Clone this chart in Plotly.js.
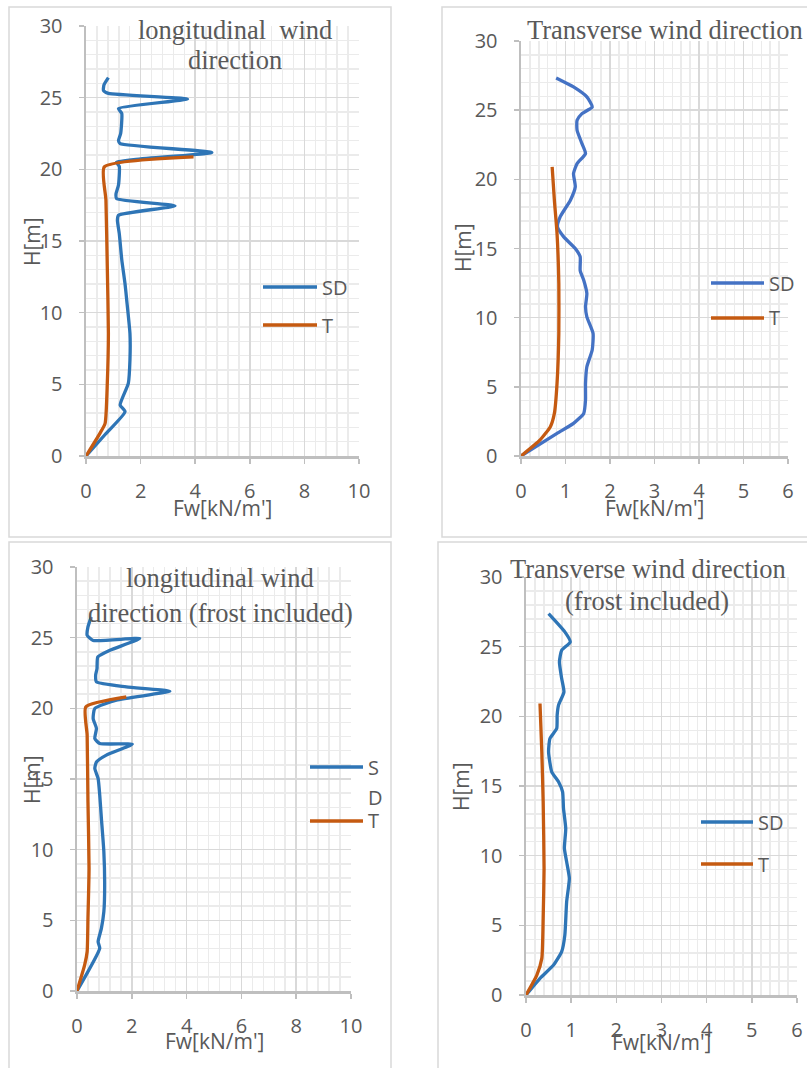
<!DOCTYPE html>
<html>
<head>
<meta charset="utf-8">
<script src="https://cdn.plot.ly/plotly-3.0.1.min.js"></script>
<style>
  html, body { margin: 0; padding: 0; background: #ffffff; }
  #chart { width: 807px; height: 1068px; }
</style>
</head>
<body>
<div id="chart"></div>
<script>
// Wind load Fw along the height H, for SD and T, four load cases.

// Longitudinal wind direction
const longSD_F = [0, 0.7, 1.43, 1.25, 1.55, 1.61, 1.61, 1.49, 1.43, 1.31, 1.22, 1.15, 1.19, 3.26, 1.12, 1.10, 1.19, 1.22, 1.12, 4.61, 1.25, 1.19, 1.27, 1.31, 1.19, 3.72, 0.82, 0.64, 0.66, 0.82];
const longSD_H = [0, 1.5, 3.09, 3.56, 5.07, 6.7, 8.55, 10.9, 12.0, 13.7, 15.5, 16.45, 16.8, 17.45, 17.96, 18.3, 18.9, 20.2, 20.5, 21.17, 21.8, 22.0, 22.5, 23.9, 24.24, 24.9, 25.3, 25.5, 25.9, 26.4];
const longT_F = [0, 0.51, 0.70, 0.78, 0.82, 0.78, 0.73, 0.67, 3.94];
const longT_H = [0, 1.58, 2.28, 5.07, 8.55, 13.2, 17.85, 20.17, 20.87];

// Transverse wind direction
const transSD_F = [0, 0.81, 1.18, 1.41, 1.45, 1.45, 1.48, 1.60, 1.62, 1.48, 1.45, 1.48, 1.41, 1.33, 1.33, 1.22, 0.96, 0.82, 0.88, 1.11, 1.22, 1.18, 1.26, 1.45, 1.37, 1.26, 1.26, 1.37, 1.60, 1.48, 1.18, 0.79];
const transSD_H = [0, 1.64, 2.36, 3.08, 4.05, 5.25, 6.45, 7.66, 8.86, 10.06, 10.79, 11.75, 12.7, 13.4, 14.4, 15.0, 15.84, 16.57, 17.29, 18.49, 19.46, 20.42, 21.14, 21.86, 22.58, 23.55, 24.27, 24.75, 25.23, 25.96, 26.68, 27.33];
const transT_F = [0, 0.43, 0.66, 0.75, 0.81, 0.85, 0.85, 0.81, 0.75, 0.70];
const transT_H = [0, 1.16, 2.12, 3.08, 5.25, 8.86, 12.47, 16.08, 18.49, 20.9];

// Longitudinal wind direction (frost included)
const longFrostSD_F = [0, 0.83, 0.77, 0.89, 0.98, 1.01, 0.98, 0.89, 0.83, 0.77, 0.65, 0.71, 1.07, 2.02, 0.83, 0.65, 0.71, 0.59, 0.65, 1.44, 3.39, 1.80, 0.71, 0.68, 0.73, 0.76, 1.20, 2.29, 0.59, 0.37, 0.40, 0.52];
const longFrostSD_H = [0, 3.02, 3.49, 4.43, 5.61, 7.49, 9.85, 12.21, 13.86, 15.04, 15.74, 16.2, 16.69, 17.46, 17.51, 17.86, 18.57, 19.28, 19.99, 20.58, 21.21, 21.52, 21.87, 22.34, 22.81, 23.64, 24.11, 24.94, 24.8, 25.17, 25.76, 26.47];
const longFrostT_F = [0, 0.28, 0.37, 0.40, 0.44, 0.40, 0.37, 0.32, 1.80];
const longFrostT_H = [0, 1.84, 2.78, 5.14, 8.67, 13.39, 18.1, 20.1, 20.81];

// Transverse wind direction (frost included)
const transFrostSD_F = [0, 0.31, 0.61, 0.79, 0.86, 0.90, 0.96, 0.90, 0.85, 0.88, 0.83, 0.81, 0.72, 0.57, 0.50, 0.53, 0.68, 0.69, 0.72, 0.84, 0.79, 0.74, 0.79, 0.98, 0.86, 0.50];
const transFrostSD_H = [0, 1.2, 2.15, 3.11, 4.3, 6.69, 8.37, 9.56, 10.52, 11.95, 13.39, 14.58, 15.3, 16.02, 17.45, 18.41, 19.12, 20.08, 20.8, 21.75, 22.71, 23.91, 24.74, 25.34, 26.06, 27.37];
const transFrostT_F = [0, 0.24, 0.35, 0.38, 0.40, 0.38, 0.35, 0.31];
const transFrostT_H = [0, 1.43, 2.63, 5.5, 9.08, 13.87, 17.45, 20.92];

const xTickVals10 = [0, 2, 4, 6, 8, 10];
const xTickVals6 = [0, 1, 2, 3, 4, 5, 6];
const yTickVals = [0, 5, 10, 15, 20, 25, 30];
const seriesNames = ['SD', 'T'];
const xTitle = "Fw[kN/m']";
const yTitle = 'H[m]';

// ---- page geometry helpers (pixel -> paper fraction) ----
const W = 807, H = 1068;
const X = px => px / W;
const Y = py => 1 - py / H;

const BLUE = '#2E75B6';
const BLUE2 = '#4472C4';
const ORANGE = '#C55A11';
const TXT = '#595959';
const SANS = 'Open Sans, Noto Sans, sans-serif';
const SERIF = 'Liberation Serif, Times New Roman, serif';

function line(x, y, color, xa, ya, name) {
  return {
    x: x, y: y, type: 'scatter', mode: 'lines', name: name,
    xaxis: xa, yaxis: ya, showlegend: false, hoverinfo: 'skip',
    line: { color: color, width: 3.3, shape: 'spline', smoothing: 0.5 }
  };
}

const traces = [
  line(longSD_F, longSD_H, BLUE, 'x', 'y', seriesNames[0]),
  line(longT_F, longT_H, ORANGE, 'x', 'y', seriesNames[1]),
  line(transSD_F, transSD_H, BLUE2, 'x2', 'y2', seriesNames[0]),
  line(transT_F, transT_H, ORANGE, 'x2', 'y2', seriesNames[1]),
  line(longFrostSD_F, longFrostSD_H, BLUE, 'x3', 'y3', seriesNames[0]),
  line(longFrostT_F, longFrostT_H, ORANGE, 'x3', 'y3', seriesNames[1]),
  line(transFrostSD_F, transFrostSD_H, BLUE, 'x4', 'y4', seriesNames[0]),
  line(transFrostT_F, transFrostT_H, ORANGE, 'x4', 'y4', seriesNames[1])
];

function xAxis(domain, anchor, max, ticks, minorStep) {
  return {
    domain: domain, anchor: anchor, range: [0, max], fixedrange: true,
    tickvals: ticks, ticks: 'outside', ticklen: 5, tickcolor: '#bfbfbf', tickwidth: 1.5,
    ticklabelstandoff: 10,
    tickfont: { family: SANS, size: 20, color: TXT },
    showline: true, linecolor: '#bfbfbf', linewidth: 2.5,
    showgrid: true, gridcolor: '#d9d9d9', gridwidth: 1.5, zeroline: false,
    minor: { dtick: minorStep, showgrid: true, gridcolor: '#ebebeb', gridwidth: 1.5, ticks: '' }
  };
}
function yAxis(domain, anchor) {
  return {
    domain: domain, anchor: anchor, range: [0, 30], fixedrange: true,
    tickvals: yTickVals, ticks: 'outside', ticklen: 5, tickcolor: '#bfbfbf', tickwidth: 1.5,
    ticklabelstandoff: 12,
    tickfont: { family: SANS, size: 20, color: TXT },
    showline: true, linecolor: '#bfbfbf', linewidth: 2.5,
    showgrid: true, gridcolor: '#d9d9d9', gridwidth: 1.5, zeroline: false,
    minor: { dtick: 1, showgrid: true, gridcolor: '#ebebeb', gridwidth: 1.5, ticks: '' }
  };
}

// plot areas in pixels: [left, right, top, bottom]
const P1 = [86, 359, 26, 456];
const P2 = [521, 788, 41, 456];
const P3 = [77, 351, 567, 991];
const P4 = [526, 797, 577, 995];
const dx = p => [X(p[0]), X(p[1])];
const dy = p => [Y(p[3]), Y(p[2])];

function ann(text, px, py, opts) {
  return Object.assign({
    text: text, xref: 'paper', yref: 'paper', x: X(px), y: Y(py),
    xanchor: 'center', yanchor: 'middle', showarrow: false,
    font: { family: SANS, size: 21, color: TXT }
  }, opts || {});
}
const serif = { family: SERIF, size: 26.5, color: TXT };
const keyFont = { family: SANS, size: 20, color: TXT };

const annotations = [
  // chart titles
  ann('longitudinal  wind', 235, 30, { font: serif }),
  ann('direction', 235, 60, { font: serif }),
  ann('Transverse wind direction', 665, 30, { font: serif }),
  ann('longitudinal wind', 220, 578, { font: serif }),
  ann('direction (frost included)', 220, 613, { font: serif }),
  ann('Transverse wind direction', 648, 569, { font: serif }),
  ann('(frost included)', 647, 601, { font: serif }),
  // axis titles
  ann(xTitle, 222, 508),
  ann(xTitle, 654, 508),
  ann(xTitle, 214, 1041),
  ann(xTitle, 661, 1042),
  ann(yTitle, 32, 242, { textangle: -90 }),
  ann(yTitle, 463, 248, { textangle: -90 }),
  ann(yTitle, 32, 780, { textangle: -90 }),
  ann(yTitle, 461, 787, { textangle: -90 }),
  // legend labels
  ann(seriesNames[0], 320, 287, { xanchor: 'left', font: keyFont }),
  ann(seriesNames[1], 320, 325, { xanchor: 'left', font: keyFont }),
  ann(seriesNames[0], 767, 283, { xanchor: 'left', font: keyFont }),
  ann(seriesNames[1], 767, 318, { xanchor: 'left', font: keyFont }),
  ann('S', 366, 767, { xanchor: 'left', font: keyFont }),
  ann('D', 366, 797, { xanchor: 'left', font: keyFont }),
  ann(seriesNames[1], 366, 820, { xanchor: 'left', font: keyFont }),
  ann(seriesNames[0], 756, 822, { xanchor: 'left', font: keyFont }),
  ann(seriesNames[1], 756, 864, { xanchor: 'left', font: keyFont })
];

function frame(l, t, r, b) {
  return { type: 'rect', xref: 'paper', yref: 'paper', x0: X(l), x1: X(r), y0: Y(b), y1: Y(t),
           line: { color: '#d9d9d9', width: 1.5 }, fillcolor: 'rgba(0,0,0,0)', layer: 'below' };
}
function key(x0, x1, py, color) {
  return { type: 'line', xref: 'paper', yref: 'paper', x0: X(x0), x1: X(x1), y0: Y(py), y1: Y(py),
           line: { color: color, width: 3.3 } };
}

const shapes = [
  frame(9, 7, 391, 537),
  frame(442, 7, 812, 537),
  frame(9, 542, 391, 1075),
  frame(438, 542, 812, 1075),
  key(263, 317, 287, BLUE), key(263, 317, 325, ORANGE),
  key(711, 764, 283, BLUE2), key(711, 764, 318, ORANGE),
  key(310, 363, 767, BLUE), key(310, 363, 821, ORANGE),
  key(701, 753, 822, BLUE), key(701, 753, 864, ORANGE)
];

const layout = {
  width: W, height: H, margin: { l: 0, r: 0, t: 0, b: 0 },
  paper_bgcolor: '#ffffff', plot_bgcolor: '#ffffff',
  showlegend: false,
  xaxis: xAxis(dx(P1), 'y', 10, xTickVals10, 0.4),
  yaxis: yAxis(dy(P1), 'x'),
  xaxis2: xAxis(dx(P2), 'y2', 6, xTickVals6, 0.2),
  yaxis2: yAxis(dy(P2), 'x2'),
  xaxis3: xAxis(dx(P3), 'y3', 10, xTickVals10, 0.4),
  yaxis3: yAxis(dy(P3), 'x3'),
  xaxis4: xAxis(dx(P4), 'y4', 6, xTickVals6, 0.2),
  yaxis4: yAxis(dy(P4), 'x4'),
  annotations: annotations,
  shapes: shapes
};

Plotly.newPlot('chart', traces, layout, { staticPlot: true, displayModeBar: false });
</script>
</body>
</html>
